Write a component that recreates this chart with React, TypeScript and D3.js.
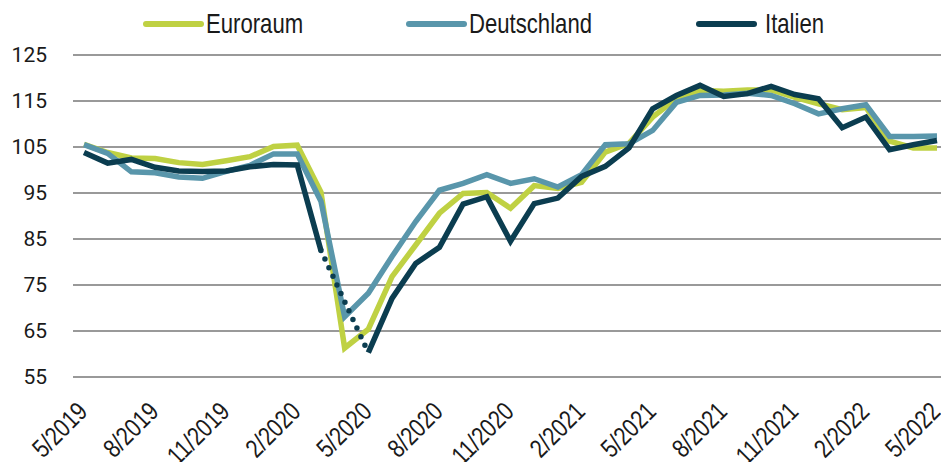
import React from "react";
import * as d3 from "d3";

const months: string[] = [
  "5/2019","6/2019","7/2019","8/2019","9/2019","10/2019","11/2019","12/2019","1/2020","2/2020",
  "3/2020","4/2020","5/2020","6/2020","7/2020","8/2020","9/2020","10/2020","11/2020","12/2020",
  "1/2021","2/2021","3/2021","4/2021","5/2021","6/2021","7/2021","8/2021","9/2021","10/2021",
  "11/2021","12/2021","1/2022","2/2022","3/2022","4/2022","5/2022",
];

const euroraum: number[] = [
  105.6, 103.8, 102.6, 102.5, 101.6, 101.2, 102.0, 102.9, 105.1, 105.4,
  95.2, 61.3, 65.4, 76.8, 83.7, 90.6, 94.9, 95.1, 91.7, 96.6,
  96.0, 97.3, 103.9, 105.8, 111.5, 115.5, 117.3, 117.1, 117.4, 117.4,
  115.8, 114.4, 113.1, 113.6, 106.3, 104.8, 104.8,
];

const deutschland: number[] = [
  105.5, 103.6, 99.6, 99.4, 98.5, 98.2, 99.7, 101.0, 103.5, 103.5,
  93.2, 68.1, 73.2, 81.2, 88.8, 95.6, 97.1, 99.0, 97.1, 98.1,
  96.3, 99.0, 105.5, 105.7, 108.6, 114.7, 116.2, 116.3, 116.7, 116.2,
  114.4, 112.2, 113.3, 114.2, 107.3, 107.3, 107.4,
];

const italien: (number | null)[] = [
  103.8, 101.5, 102.3, 100.6, 99.8, 99.7, 99.8, 100.7, 101.2, 101.1,
  82.5, null, 60.3, 72.1, 79.7, 83.2, 92.6, 94.2, 84.5, 92.7,
  93.9, 98.6, 100.8, 104.8, 113.3, 116.2, 118.4, 116.0, 116.6, 118.2,
  116.4, 115.5, 109.2, 111.5, 104.4, 105.5, 106.4,
];

const yTicks: number[] = [55, 65, 75, 85, 95, 105, 115, 125];
const xTickIdx: number[] = [0, 3, 6, 9, 12, 15, 18, 21, 24, 27, 30, 33, 36];

const seriesNames: string[] = ["Euroraum", "Deutschland", "Italien"];
const seriesColors: string[] = ["#bfd143", "#5996ab", "#0b3d50"];

export default function App() {
  const W = 941;
  const H = 462;
  const x = d3.scaleLinear().domain([0, months.length - 1]).range([84, 937]);
  const y = d3.scaleLinear().domain([55, 125]).range([377, 55]);

  const line = d3
    .line<number | null>()
    .defined((d) => d !== null)
    .x((_, i) => x(i))
    .y((d) => y(d as number));

  const data = [euroraum, deutschland, italien];

  const gapSegs: [number, number][] = [];
  for (let i = 0; i < italien.length; i++) {
    if (italien[i] === null) {
      const a = i - 1;
      let b = i + 1;
      while (b < italien.length && italien[b] === null) b++;
      if (a >= 0 && b < italien.length) gapSegs.push([a, b]);
    }
  }

  const legendX = [146, 409, 699];
  const legendTextX = [206, 469, 765];
  const narrow = "'Liberation Sans', Arial, sans-serif";

  return (
    <svg
      width={W}
      height={H}
      style={{ position: "absolute", left: 0, top: 0, background: "#fff" }}
    >
      {yTicks.map((t) => (
        <g key={t}>
          <line x1={73} x2={941} y1={y(t)} y2={y(t)} stroke="#999" strokeWidth={2} />
          <text
            x={47}
            y={y(t)}
            dy="0.35em"
            textAnchor="end"
            fontFamily="Roboto, 'Liberation Sans', sans-serif"
            fontSize={21}
            fill="#1a1a1a"
          >
            {t}
          </text>
        </g>
      ))}

      {xTickIdx.map((i) => (
        <text
          key={i}
          transform={`translate(${x(i) + 5},${413}) rotate(-45) scale(0.82,1)`}
          textAnchor="end"
          fontFamily={narrow}
          fontSize={26}
          fill="#1a1a1a"
        >
          {months[i]}
        </text>
      ))}

      {data.map((s, k) => (
        <path
          key={k}
          d={line(s) || ""}
          fill="none"
          stroke={seriesColors[k]}
          strokeWidth={5.5}
          strokeLinejoin="miter"
        />
      ))}

      {gapSegs.map(([a, b], k) => (
        <line
          key={k}
          x1={x(a)}
          y1={y(italien[a] as number)}
          x2={x(b)}
          y2={y(italien[b] as number)}
          stroke={seriesColors[2]}
          strokeWidth={5.5}
          strokeLinecap="round"
          strokeDasharray="0 9.5"
        />
      ))}

      {seriesNames.map((n, k) => (
        <g key={n}>
          <line
            x1={legendX[k]}
            x2={legendX[k] + 55}
            y1={24}
            y2={24}
            stroke={seriesColors[k]}
            strokeWidth={6}
            strokeLinecap="round"
          />
          <text
            transform={`translate(${legendTextX[k]},33) scale(0.82,1)`}
            fontFamily={narrow}
            fontSize={27}
            fill="#1a1a1a"
          >
            {n}
          </text>
        </g>
      ))}
    </svg>
  );
}
